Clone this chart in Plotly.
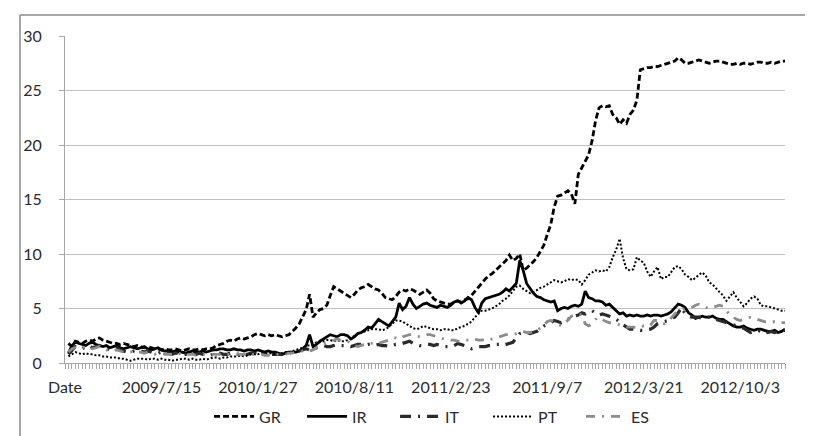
import datetime as dt
import plotly.graph_objects as go

# ---- data (weekly) ----
first_date = dt.date(2009, 1, 7)
n_weeks = 209
categories = ["Date"] + [
    (first_date + dt.timedelta(weeks=k)).strftime("%Y/%-m/%-d") for k in range(n_weeks)
]

tick_labels = ["Date", "2009/7/15", "2010/1/27", "2010/8/11", "2011/2/23",
               "2011/9/7", "2012/3/21", "2012/10/3"]

GR = [1.8, 1.5, 2.0, 1.9, 1.8, 2.0, 2.1, 2.0, 2.2, 2.3,
      2.1, 2.0, 1.9, 1.8, 1.8, 1.7, 1.8, 1.7, 1.6, 1.5,
      1.6, 1.5, 1.4, 1.5, 1.4, 1.3, 1.3, 1.2, 1.3, 1.2,
      1.2, 1.3, 1.2, 1.1, 1.2, 1.3, 1.2, 1.2, 1.3, 1.2,
      1.3, 1.3, 1.4, 1.6, 1.7, 1.8, 2.0, 2.1, 2.0, 2.2,
      2.3, 2.2, 2.3, 2.4, 2.6, 2.7, 2.6, 2.5, 2.6, 2.5,
      2.6, 2.5, 2.4, 2.5, 2.6, 2.9, 3.2, 3.6, 4.2, 4.9,
      6.3, 4.2, 4.6, 4.9, 5.0, 5.3, 6.2, 7.0, 6.8, 6.6,
      6.4, 6.2, 6.0, 6.3, 6.7, 6.9, 7.0, 7.2, 7.0, 6.8,
      6.7, 6.4, 6.0, 5.9, 5.8, 6.1, 6.5, 6.7, 6.6, 6.8,
      6.7, 6.5, 6.3, 6.5, 6.7, 6.4, 5.9, 5.7, 5.6, 5.5,
      5.4, 5.4, 5.6, 5.7, 5.6, 5.8, 5.9, 6.2, 6.6, 6.9,
      7.3, 7.7, 8.0, 8.2, 8.5, 8.8, 9.1, 9.4, 9.9, 9.4,
      9.6, 10.0, 8.5, 8.7, 9.0, 9.3, 9.7, 10.2, 10.8, 11.8,
      12.7, 14.3, 15.3, 15.4, 15.6, 15.8, 15.5, 14.6, 17.3, 17.9,
      18.5, 19.1, 20.4, 22.2, 23.4, 23.6, 23.5, 23.6, 22.8, 22.5,
      21.9, 22.3, 22.0, 22.8, 23.2, 24.1, 26.9, 27.0, 27.1, 27.1,
      27.2, 27.2, 27.3, 27.4, 27.5, 27.6, 27.7, 28.0, 27.8, 27.5,
      27.5, 27.6, 27.7, 27.8, 27.7, 27.6, 27.5, 27.6, 27.7, 27.7,
      27.6, 27.5, 27.4, 27.4, 27.5, 27.4, 27.5, 27.5, 27.4, 27.5,
      27.6, 27.6, 27.5, 27.5, 27.6, 27.5, 27.6, 27.7, 27.7]

IR = [0.9, 1.6, 1.9, 1.8, 1.7, 1.6, 1.8, 1.9, 1.7, 1.6,
      1.5, 1.6, 1.4, 1.5, 1.6, 1.4, 1.3, 1.4, 1.5, 1.4,
      1.3, 1.4, 1.5, 1.3, 1.2, 1.3, 1.4, 1.2, 1.1, 1.1,
      1.0, 1.1, 1.0, 1.0, 0.9, 1.0, 1.1, 1.0, 1.0, 1.1,
      1.0, 1.1, 1.2, 1.2, 1.3, 1.3, 1.2, 1.2, 1.3, 1.2,
      1.2, 1.1, 1.2, 1.2, 1.1, 1.2, 1.1, 1.0, 1.1, 1.0,
      1.0, 0.9, 0.8, 0.9, 1.0, 1.0, 1.0, 1.1, 1.3, 1.6,
      2.6, 1.5, 1.7, 2.0, 2.2, 2.4, 2.6, 2.5, 2.4, 2.6,
      2.6, 2.5, 2.2, 2.4, 2.7, 2.8, 3.0, 3.3, 3.2, 3.6,
      4.0, 3.8, 3.6, 3.4, 3.8, 4.2, 5.5, 4.9, 5.2, 6.0,
      5.4, 5.0, 5.2, 5.4, 5.5, 5.3, 5.2, 5.1, 5.3, 5.2,
      5.1, 5.3, 5.6, 5.7, 5.5, 5.7, 6.0, 5.8, 5.1, 4.6,
      5.5, 5.9, 6.0, 6.1, 6.2, 6.3, 6.5, 6.8, 6.6, 7.0,
      7.3, 9.4, 8.5, 7.3, 6.8, 6.4, 6.1, 6.0, 5.8, 5.7,
      5.6, 5.7, 4.8, 5.0, 5.1, 5.0, 5.2, 5.3, 5.2, 5.4,
      6.6, 6.0, 5.9, 5.7, 5.7, 5.6, 5.3, 5.4, 5.1, 4.8,
      4.5, 4.6, 4.3, 4.4, 4.3, 4.4, 4.3, 4.3, 4.4, 4.3,
      4.4, 4.4, 4.3, 4.4, 4.5, 4.7, 5.1, 5.4, 5.3, 5.1,
      4.6, 4.4, 4.1, 4.2, 4.3, 4.2, 4.2, 4.3, 4.1, 4.0,
      4.0, 3.8, 3.6, 3.4, 3.3, 3.3, 3.4, 3.2, 3.1, 3.0,
      3.1, 3.1, 3.0, 2.9, 2.9, 3.0, 2.8, 2.9, 3.1]

IT = [0.8, 1.2, 1.5, 1.4, 1.3, 1.5, 1.6, 1.4, 1.5, 1.6,
      1.4, 1.3, 1.2, 1.3, 1.4, 1.2, 1.1, 1.0, 1.0, 1.1,
      1.2, 1.1, 1.0, 1.1, 1.0, 0.9, 0.9, 1.0, 0.9, 0.9,
      0.8, 0.9, 0.9, 0.8, 0.8, 0.9, 0.8, 0.8, 0.9, 0.8,
      0.8, 0.7, 0.8, 0.8, 0.9, 0.8, 0.8, 0.9, 0.9, 0.8,
      0.9, 0.8, 0.8, 0.9, 0.9, 0.8, 0.8, 0.8, 0.7, 0.8,
      0.8, 0.8, 0.8, 0.9, 0.9, 1.0, 1.0, 1.1, 1.2, 1.3,
      1.2, 1.3, 1.4, 1.5, 1.6, 1.5, 1.5, 1.6, 1.7, 1.6,
      1.6, 1.6, 1.5, 1.6, 1.7, 1.7, 1.6, 1.7, 1.7, 1.6,
      1.7, 1.6, 1.6, 1.5, 1.6, 1.7, 1.7, 1.8, 1.9, 2.0,
      1.8, 1.7, 1.6, 1.6, 1.7, 1.7, 1.6, 1.7, 1.6, 1.5,
      1.5, 1.5, 1.6, 1.8, 1.7, 1.6, 1.4, 1.3, 1.4, 1.5,
      1.5, 1.5, 1.6, 1.6, 1.7, 1.7, 1.6, 1.7, 1.8, 1.9,
      2.3, 2.7, 2.8, 2.8, 2.7, 2.8, 2.9, 3.2, 3.4, 3.5,
      3.7, 3.9, 3.8, 3.7, 3.9, 4.0, 4.2, 4.3, 4.4, 4.6,
      4.5, 4.7, 4.8, 4.6, 4.4, 4.5, 4.4, 4.3, 4.2, 4.0,
      3.8, 3.5, 3.3, 3.1, 3.1, 3.1, 3.0, 3.0, 3.1, 3.1,
      3.3, 3.6, 3.7, 3.8, 3.9, 4.1, 4.2, 4.6, 5.1, 4.5,
      4.3, 4.2, 4.2, 4.2, 4.1, 4.2, 4.2, 4.1, 4.0, 3.9,
      3.8, 3.7, 3.6, 3.5, 3.4, 3.3, 3.2, 3.0, 2.8, 2.9,
      3.0, 2.9, 3.0, 2.8, 2.9, 2.8, 2.9, 3.0, 3.0]

PT = [0.6, 0.8, 1.0, 0.9, 0.8, 0.9, 0.8, 0.8, 0.7, 0.7,
      0.6, 0.6, 0.5, 0.5, 0.5, 0.4, 0.4, 0.3, 0.2, 0.3,
      0.4, 0.4, 0.4, 0.3, 0.4, 0.4, 0.3, 0.4, 0.3, 0.3,
      0.2, 0.3, 0.3, 0.4, 0.4, 0.3, 0.4, 0.3, 0.3, 0.4,
      0.3, 0.4, 0.5, 0.5, 0.4, 0.5, 0.5, 0.6, 0.6, 0.6,
      0.7, 0.6, 0.7, 0.8, 0.8, 0.8, 0.9, 0.9, 0.9, 0.9,
      0.8, 0.9, 0.9, 1.0, 1.0, 1.1, 1.2, 1.3, 1.4, 1.6,
      1.6, 1.7, 1.9, 1.9, 2.0, 2.1, 2.1, 2.0, 2.1, 2.0,
      2.0, 2.1, 2.3, 2.5, 2.7, 2.8, 2.9, 3.0, 3.1, 3.1,
      3.1, 3.0, 3.1, 3.3, 3.6, 3.9, 3.9, 3.8, 3.6, 3.4,
      3.2, 3.1, 3.2, 3.4, 3.3, 3.2, 3.1, 3.1, 3.0, 3.1,
      3.1, 3.0, 3.0, 3.2, 3.3, 3.4, 3.6, 3.8, 4.2, 4.5,
      4.8, 4.8, 4.9, 5.0, 5.2, 5.4, 5.7, 5.9, 6.2, 6.6,
      7.0, 7.1, 6.8, 6.6, 6.4, 6.5, 6.7, 6.9, 7.0, 7.2,
      7.4, 7.6, 7.5, 7.4, 7.5, 7.7, 7.6, 7.7, 7.6, 7.2,
      7.6, 8.1, 8.3, 8.5, 8.4, 8.5, 8.4, 8.8, 9.7, 10.4,
      11.4, 9.6, 8.6, 8.5, 8.6, 9.7, 9.4, 9.2, 8.4, 7.9,
      8.4, 8.8, 7.7, 7.9, 7.9, 8.3, 8.8, 8.9, 8.6, 8.1,
      7.9, 7.6, 7.8, 8.1, 8.3, 8.0, 7.4, 7.2, 6.8, 6.5,
      6.2, 5.7, 6.1, 6.5, 6.0, 5.6, 5.2, 5.5, 5.9, 6.1,
      5.9, 5.3, 5.2, 5.2, 5.1, 5.0, 4.9, 4.8, 4.8]

ES = [1.0, 1.3, 1.4, 1.3, 1.4, 1.5, 1.4, 1.3, 1.4, 1.5,
      1.3, 1.2, 1.2, 1.1, 1.2, 1.1, 1.0, 1.0, 1.0, 1.1,
      1.0, 1.0, 0.9, 1.0, 0.9, 0.8, 0.9, 0.9, 0.8, 0.8,
      0.8, 0.8, 0.9, 0.8, 0.7, 0.8, 0.8, 0.7, 0.8, 0.8,
      0.7, 0.7, 0.8, 0.8, 0.8, 0.7, 0.8, 0.8, 0.8, 0.8,
      0.8, 0.8, 0.7, 0.8, 0.8, 0.8, 0.8, 0.7, 0.7, 0.8,
      0.8, 0.8, 0.8, 0.8, 0.9, 0.9, 1.0, 1.0, 1.1, 1.2,
      1.1, 1.2, 1.4, 1.6, 1.8, 1.9, 2.0, 2.1, 2.2, 2.1,
      2.0, 2.0, 1.8, 1.6, 1.5, 1.6, 1.7, 1.8, 1.8, 1.7,
      1.8, 1.9, 2.0, 2.1, 2.3, 2.3, 2.2, 2.4, 2.5, 2.6,
      2.6, 2.5, 2.4, 2.5, 2.6, 2.6, 2.5, 2.4, 2.3, 2.2,
      2.2, 2.1, 2.1, 2.0, 2.0, 2.1, 2.1, 2.1, 2.2, 2.1,
      2.1, 2.2, 2.1, 2.2, 2.3, 2.4, 2.5, 2.6, 2.6, 2.6,
      2.7, 2.8, 2.9, 2.8, 2.8, 2.9, 3.0, 3.2, 3.5, 3.8,
      3.9, 3.8, 3.6, 3.4, 3.6, 4.0, 4.3, 4.4, 4.5, 4.4,
      3.6, 3.4, 3.6, 4.0, 4.2, 4.0, 3.8, 3.7, 3.6, 3.6,
      3.5, 3.4, 3.3, 3.3, 3.3, 3.2, 3.3, 3.4, 3.3, 3.5,
      3.9, 3.9, 3.7, 3.6, 3.8, 4.2, 4.5, 4.8, 4.9, 5.0,
      5.0, 5.1, 5.3, 5.4, 5.3, 5.1, 5.0, 5.1, 5.2, 5.3,
      5.2, 4.8, 4.4, 4.2, 4.0, 3.9, 4.0, 4.1, 4.2, 4.1,
      4.0, 3.9, 3.8, 3.7, 3.7, 3.8, 3.7, 3.7, 3.7]

# x positions = category index (index 0 is the "Date" header category)
x_idx = [categories.index(d) for d in categories[1:]]
tick_idx = [categories.index(t) for t in tick_labels]

FONT = "Lato, 'Open Sans', sans-serif"
TXT = "#2b2b2b"

styles = [
    ("GR", GR, dict(color="black", width=2.8, dash="6px,3px")),
    ("IR", IR, dict(color="black", width=2.8)),
    ("IT", IT, dict(color="#2a2a2a", width=3.2, dash="11px,7px,2px,7px")),
    ("PT", PT, dict(color="black", width=2.0, dash="2px,2px")),
    ("ES", ES, dict(color="#8c8c8c", width=2.8, dash="9px,7px,2px,7px")),
]

fig = go.Figure()
for name, vals, line in styles:
    fig.add_trace(go.Scatter(x=x_idx, y=vals, mode="lines", name=name, line=line))

fig.update_layout(
    width=813, height=436,
    margin=dict(l=57, r=36, t=28, b=80),
    paper_bgcolor="white", plot_bgcolor="white",
    font=dict(family=FONT, size=16, color=TXT),
    showlegend=True,
    legend=dict(orientation="h", x=0.523, xanchor="center", y=-0.16, yanchor="middle",
                font=dict(size=16, color=TXT), itemwidth=40, tracegroupgap=0,
                entrywidth=38, entrywidthmode="pixels",
                bgcolor="rgba(0,0,0,0)"),
    xaxis=dict(range=[0, len(categories) - 1], tickmode="array",
               tickvals=tick_idx, ticktext=tick_labels,
               showgrid=False, zeroline=False, showline=True, linecolor="#a6a6a6",
               linewidth=1.2, ticks="outside", ticklen=5, tickcolor="#a6a6a6",
               tickwidth=1, ticklabelstandoff=5,
               minor=dict(tickmode="linear", tick0=0, dtick=1, ticks="outside",
                          ticklen=5, tickcolor="#a6a6a6", tickwidth=1, showgrid=False)),
    yaxis=dict(range=[0, 30], tickmode="linear", tick0=0, dtick=5,
               showgrid=True, gridcolor="#bfbfbf", gridwidth=1.2,
               zeroline=False, showline=True, linecolor="#a6a6a6", linewidth=1.2,
               ticks="outside", ticklen=5, tickcolor="#a6a6a6",
               ticklabelstandoff=14),
    shapes=[
        dict(type="line", xref="paper", yref="paper",
             x0=(12 - 57) / 720, x1=1.2, y0=(356 - 7) / 328, y1=(356 - 7) / 328,
             line=dict(color="#8a8a8a", width=1.5)),
        dict(type="line", xref="paper", yref="paper",
             x0=(12 - 57) / 720, x1=(12 - 57) / 720, y0=(356 - 7) / 328, y1=-0.4,
             line=dict(color="#8a8a8a", width=1.5)),
    ],
)

fig.write_html("out.html")
